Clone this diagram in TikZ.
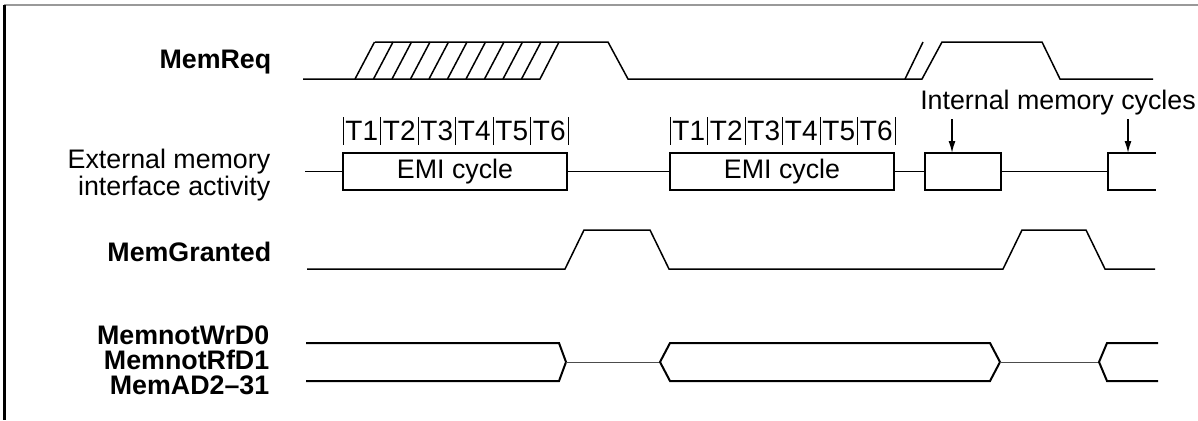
\documentclass[tikz,border=0pt]{standalone}
\usepackage{fontspec}
\setmainfont{Liberation Sans}
\usetikzlibrary{arrows.meta}

\begin{document}
\begin{tikzpicture}[x=0.5pt,y=-0.5pt,line width=0.75pt,
	font=\fontsize{13.4}{15}\selectfont,
	lbl/.style={anchor=east,inner sep=0pt,align=right,font=\fontsize{13.4}{12.5}\selectfont\bfseries},
	cyc/.style={draw,inner sep=0pt,minimum height=18.5pt},
	tick/.style={line width=0.5pt},
	bus/.style={line width=1pt},
	hiz/.style={line width=0.5pt,black!70}]
\useasboundingbox (0,0) rectangle (1198,420);
\draw[black!40,line width=1pt] (4,5) -- (1198,5);
\draw[line width=1.5pt] (4,5) -- (4,420);

% MemReq
\node[lbl] (req) at (272,62) {MemReq};
\draw (303,79) -- (540,79) -- (559,42);
\foreach \k in {0,...,9} \draw (355+18.5*\k,79) -- (374.5+18.5*\k,42);
\draw (375,42) -- (608,42) -- (628,79) -- (922,79) -- (942,42) -- (1042,42) -- (1060,79) -- (1153,79);
\draw (905,79) -- (923,42);

% EMI activity
\node[lbl,font=\fontsize{13.4}{12}\selectfont] (emi) at (271,175) {External memory\\interface activity};
\node[cyc,minimum width=112pt] (cycA) at (455,171.5) {EMI cycle};
\node[cyc,minimum width=112pt] (cycB) at (782,171.5) {EMI cycle};
\node[cyc,minimum width=38pt] (cycC) at (963,171.5) {};
\coordinate (cycD) at (1108,171.5);
\draw (305,171.5) -- (cycA.west) (cycA.east) -- (cycB.west) (cycB.east) -- (cycC.west) (cycC.east) -- (cycD);
\draw (1156,153) -- (1108,153) -- (1108,190) -- (1156,190);
\foreach \x in {343,670}{
	\foreach \i in {0,...,6} \draw[tick] (\x+37.5*\i,117) -- (\x+37.5*\i,145);
	\foreach \i in {1,...,6} \node[inner sep=0pt,font=\fontsize{14}{15}\selectfont] (t\x-\i) at (\x+37.5*\i-18.75,131) {T\i};
}
\node[inner sep=0pt] (imc) at (1058,103) {Internal memory cycles};
\coordinate (inA) at (952,153);
\coordinate (inB) at (1128,153);
\draw[-{Latex[length=6pt,width=3.5pt]}] (inA |- imc.south) ++(0,3) -- (inA);
\draw[-{Latex[length=6pt,width=3.5pt]}] (inB |- imc.south) ++(0,3) -- (inB);

% MemGranted
\node[lbl] (gnt) at (272,252) {MemGranted};
\draw (307,269) -- (565,269) -- (584,230) -- (650,230) -- (669,269) -- (1003,269) -- (1022,230) -- (1086,230) -- (1105,269) -- (1155,269);

% bus
\node[lbl] (ad) at (270,360) {MemnotWrD0\\MemnotRfD1\\MemAD2--31};
\draw[bus] (306,343) -- (559,343) -- (566,362) -- (559,381) -- (306,381);
\draw[hiz] (566,362) -- (660,362);
\draw[bus] (660,362) -- (670,343) -- (990,343) -- (1000,362) -- (990,381) -- (670,381) -- cycle;
\draw[hiz] (1000,362) -- (1099,362);
\draw[bus] (1158,343) -- (1107,343) -- (1099,362) -- (1107,381) -- (1158,381);
\end{tikzpicture}
\end{document}
